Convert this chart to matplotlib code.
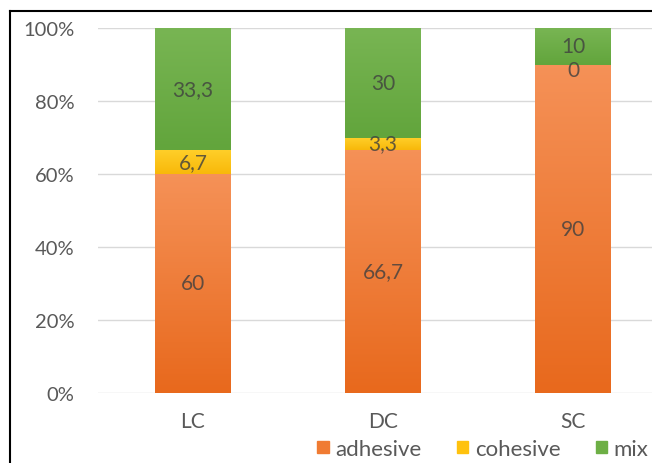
import matplotlib
matplotlib.use("Agg")
import matplotlib.pyplot as plt
from matplotlib.lines import Line2D
from matplotlib.patches import Rectangle
from matplotlib.colors import LinearSegmentedColormap
import numpy as np

categories = ["LC", "DC", "SC"]
adhesive = [60, 66.7, 90]
cohesive = [6.7, 3.3, 0]
mix = [33.3, 30, 10]
series_names = ["adhesive", "cohesive", "mix"]
label_texts = {
    "adhesive": ["60", "66,7", "90"],
    "cohesive": ["6,7", "3,3", "0"],
    "mix": ["33,3", "30", "10"],
}
yticks = [0, 20, 40, 60, 80, 100]
ytick_labels = ["0%", "20%", "40%", "60%", "80%", "100%"]

colors = {"adhesive": "#F07B32", "cohesive": "#FFC20E", "mix": "#6DAF45"}
grad = {
    "adhesive": ("#E8691D", "#F59157"),
    "cohesive": ("#F8B80A", "#FFD02A"),
    "mix": ("#62A53C", "#78B553"),
}

plt.rcParams['font.family'] = ['Lato', 'DejaVu Sans']

fig = plt.figure(figsize=(6.52, 4.64), dpi=100)
W, H = 652, 464
ax_left, ax_right = 98, 668
ax_bottom_px, ax_top_px = 394, 29
ax = fig.add_axes([ax_left / W, (H - ax_bottom_px) / H,
                   (ax_right - ax_left) / W, (ax_bottom_px - ax_top_px) / H])

x = np.arange(len(categories))
width = 0.4
data = {"adhesive": adhesive, "cohesive": cohesive, "mix": mix}
bottom = np.zeros(len(categories))
gvals = np.linspace(0, 1, 64).reshape(-1, 1)
for name in series_names:
    vals = np.array(data[name], dtype=float)
    bars = ax.bar(x, vals, width, bottom=bottom, color=colors[name], label=name,
                  zorder=3, edgecolor="none")
    cmap = LinearSegmentedColormap.from_list(name, list(grad[name]))
    for b in bars:
        if b.get_height() <= 0:
            continue
        x0, y0 = b.get_x(), b.get_y()
        im = ax.imshow(gvals, cmap=cmap, aspect="auto", origin="lower",
                       extent=(x0, x0 + b.get_width(), y0, y0 + b.get_height()),
                       zorder=3.5, interpolation="bilinear")
        im.set_clip_path(b)
    for i, v in enumerate(vals):
        yc = bottom[i] + v / 2
        if v == 0:
            yc = bottom[i] - 1.5
        ax.text(x[i], yc, label_texts[name][i], ha="center", va="center",
                fontsize=15, color="#3F3F3F", alpha=0.8, zorder=4)
    bottom += vals

ax.set_xlim(-0.5, len(categories) - 0.5)
ax.set_ylim(0, 100)
ax.set_yticks(yticks)
ax.set_yticklabels(ytick_labels)
ax.set_xticks(x)
ax.set_xticklabels(categories)
ax.yaxis.grid(True, color="#D9D9D9", linewidth=1, zorder=0)
ax.set_axisbelow(True)
for s in ax.spines.values():
    s.set_visible(False)
ax.tick_params(axis="both", length=0, colors="#595959")
ax.tick_params(axis="y", pad=17, labelsize=14.5)
ax.tick_params(axis="x", pad=13, labelsize=15)

handles = [Rectangle((0, 0), 1, 1, color=colors[n]) for n in series_names]
fig.legend(handles, series_names, loc="center", ncol=3,
           bbox_to_anchor=(483 / W, (H - 450) / H), frameon=False,
           fontsize=16, handlelength=0.5, handleheight=0.5,
           handletextpad=0.3, columnspacing=1.6, labelcolor="#595959",
           borderpad=0)

# outer border (top and left)
fig.add_artist(Line2D([10 / W, 10 / W], [0, (H - 12) / H], color="black",
                      linewidth=1.5, transform=fig.transFigure))
fig.add_artist(Line2D([10 / W, 1], [(H - 12) / H, (H - 12) / H], color="black",
                      linewidth=1.5, transform=fig.transFigure))

fig.savefig("out.png", dpi=100)
